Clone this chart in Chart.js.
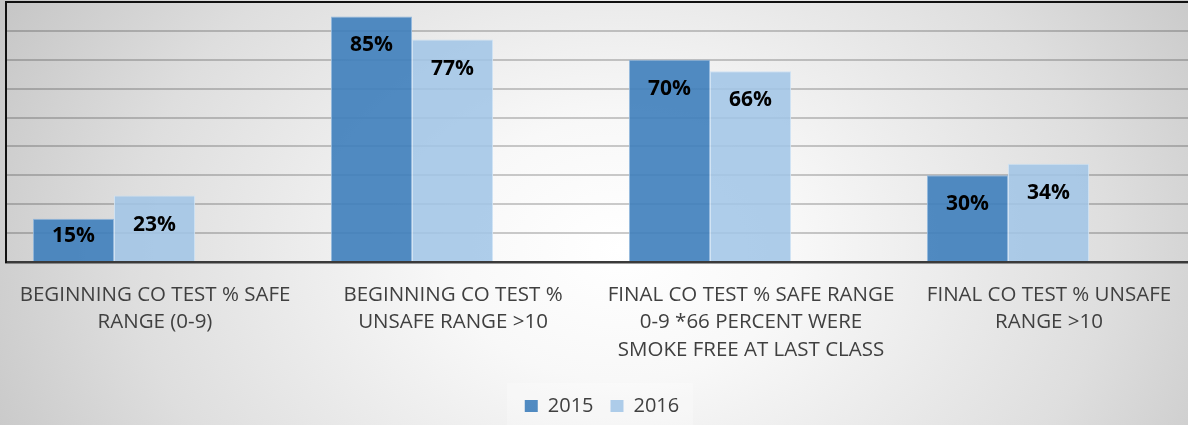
<!DOCTYPE html>
<html>
<head>
<meta charset="utf-8">
<script src="https://cdn.jsdelivr.net/npm/chart.js@4/dist/chart.umd.min.js"></script>
<style>
  html, body { margin: 0; padding: 0; }
  body {
    width: 1188px; height: 425px; overflow: hidden;
    background: radial-gradient(ellipse 700px 520px at 620px 250px, #ffffff 0%, #f8f8f8 25%, #dedede 70%, #c6c6c6 100%);
  }
  /* plot runs past the right edge of the picture, as in the original */
  #wrap { position: relative; width: 1198px; height: 425px; }
</style>
</head>
<body>
<div id="wrap"><canvas id="co-chart"></canvas></div>
<script>
const categories = [
  ['BEGINNING CO TEST % SAFE', 'RANGE (0-9)'],
  ['BEGINNING CO TEST %', 'UNSAFE RANGE >10'],
  ['FINAL CO TEST % SAFE RANGE', '0-9 *66 PERCENT WERE', 'SMOKE FREE AT LAST CLASS'],
  ['FINAL CO TEST % UNSAFE', 'RANGE >10'],
];
const series2015 = [15, 85, 70, 30];
const series2016 = [23, 77, 66, 34];
const seriesNames = ['2015', '2016'];

const FONT = "'Open Sans', 'DejaVu Sans', sans-serif";

// value labels inside the top of each bar
const valueLabels = {
  id: 'valueLabels',
  afterDatasetsDraw(chart) {
    const ctx = chart.ctx;
    ctx.save();
    ctx.font = `bold 21px ${FONT}`;
    ctx.fillStyle = '#000';
    ctx.textAlign = 'center';
    ctx.textBaseline = 'middle';
    chart.data.datasets.forEach((ds, di) => {
      chart.getDatasetMeta(di).data.forEach((bar, i) => {
        const y = Math.min(bar.y + 29, bar.base - 25);
        ctx.fillText(`${ds.data[i].y}%`, bar.x, y);
      });
    });
    ctx.restore();
  },
};

// faint light panel behind the legend
const legendPanel = {
  id: 'legendPanel',
  beforeDraw(chart) {
    const boxes = chart.legend && chart.legend.legendHitBoxes;
    if (!boxes || !boxes.length) return;
    const first = boxes[0], last = boxes[boxes.length - 1];
    const ctx = chart.ctx;
    ctx.save();
    ctx.fillStyle = 'rgba(255,255,255,0.25)';
    ctx.fillRect(first.left - 18, chart.legend.top + 4, last.left + last.width - first.left + 32, chart.legend.bottom - chart.legend.top - 4);
    ctx.restore();
  },
};

const toPoints = arr => arr.map((v, i) => ({ x: i, y: v }));

new Chart(document.getElementById('co-chart'), {
  type: 'bar',
  data: {
    datasets: [
      {
        label: seriesNames[0],
        data: toPoints(series2015),
        backgroundColor: 'rgba(62,126,187,0.9)',
        borderColor: 'rgba(140,180,220,0.9)',
        borderWidth: 1,
      },
      {
        label: seriesNames[1],
        data: toPoints(series2016),
        backgroundColor: 'rgba(160,196,230,0.85)',
        borderColor: 'rgba(205,225,243,0.9)',
        borderWidth: 1,
      },
    ],
  },
  options: {
    responsive: true,
    maintainAspectRatio: false,
    animation: false,
    categoryPercentage: 0.544,
    barPercentage: 1,
    layout: { padding: { left: 6, right: 0, top: 2, bottom: 0 } },
    plugins: {
      tooltip: { enabled: false },
      legend: {
        position: 'bottom',
        maxHeight: 46,
        labels: {
          boxWidth: 13,
          boxHeight: 12,
          padding: 17,
          color: '#404040',
          font: { family: FONT, size: 20 },
          generateLabels: chart =>
            Chart.defaults.plugins.legend.labels.generateLabels(chart).map(l => ({ ...l, lineWidth: 0 })),
        },
      },
    },
    scales: {
      x: {
        type: 'linear',
        display: false,
        offset: false,
        grid: { offset: false },
        min: -108 / 298,
        max: 4 - 108 / 298,
        ticks: { stepSize: 1, includeBounds: false },
      },
      xl: {
        type: 'category',
        position: 'bottom',
        labels: categories,
        offset: true,
        grid: { display: false },
        border: { display: true, color: '#3a3a3a', width: 2.5 },
        ticks: {
          padding: 11,
          color: '#404040',
          maxRotation: 0,
          autoSkip: false,
          font: { family: FONT, size: 20.5, lineHeight: '27.5px' },
        },
        afterFit: scale => { scale.height = 117; },
      },
      y: {
        min: 0,
        max: 90,
        ticks: { stepSize: 10, display: false },
        grid: {
          drawTicks: false,
          color: c => (c.tick.value >= 89 ? '#111' : c.tick.value === 0 ? 'rgba(0,0,0,0)' : 'rgba(0,0,0,0.2)'),
          lineWidth: 2,
        },
        border: { display: true, color: '#111', width: 2 },
        afterFit: scale => { scale.width = 0; },
      },
    },
  },
  plugins: [valueLabels, legendPanel],
});
</script>
</body>
</html>
